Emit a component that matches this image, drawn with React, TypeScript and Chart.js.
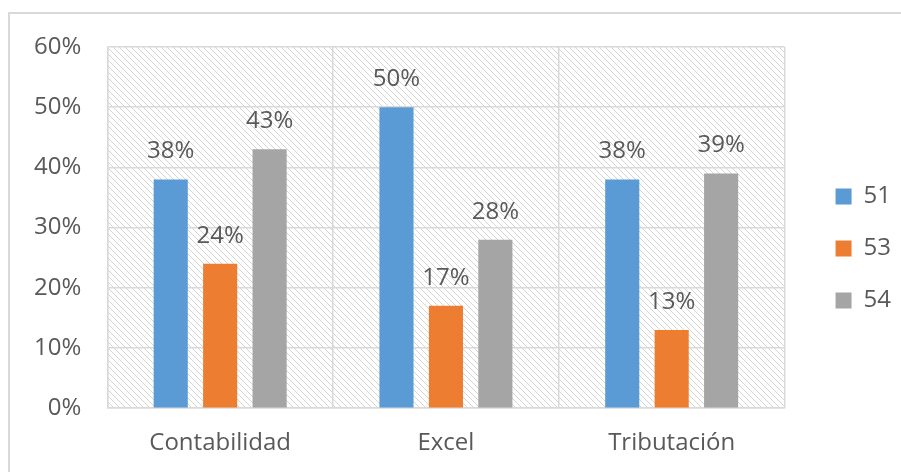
import React, { useEffect, useRef } from "react";
import { Chart, registerables } from "chart.js";

Chart.register(...registerables);

const categories = ["Contabilidad", "Excel", "Tributación"];
const seriesNames = ["51", "53", "54"];
const series51 = [38, 50, 38];
const series53 = [24, 17, 13];
const series54 = [43, 28, 39];
const seriesColors = ["#5B9BD5", "#ED7D31", "#A5A5A5"];
const yTicks = [0, 10, 20, 30, 40, 50, 60];

const FONT = "'Open Sans', sans-serif";
const TEXT = "#595959";
const GRID = "#d9d9d9";

function makePattern(ctx: CanvasRenderingContext2D) {
  const s = 6;
  const c = document.createElement("canvas");
  c.width = s;
  c.height = s;
  const p = c.getContext("2d")!;
  p.fillStyle = "#ffffff";
  p.fillRect(0, 0, s, s);
  p.strokeStyle = "#d4d4d4";
  p.lineWidth = 1;
  p.beginPath();
  p.moveTo(-1, -1);
  p.lineTo(s + 1, s + 1);
  p.moveTo(-1, s - 1);
  p.lineTo(1, s + 1);
  p.moveTo(s - 1, -1);
  p.lineTo(s + 1, 1);
  p.stroke();
  return ctx.createPattern(c, "repeat");
}

const hatchPlugin = {
  id: "hatch",
  beforeDraw(chart: any) {
    const { ctx, chartArea } = chart;
    if (!chartArea) return;
    const pat = makePattern(ctx);
    ctx.save();
    ctx.fillStyle = pat as any;
    ctx.fillRect(chartArea.left, chartArea.top, chartArea.right - chartArea.left, chartArea.bottom - chartArea.top);
    ctx.restore();
  },
};

const legendShiftPlugin = {
  id: "legendShift",
  afterLayout(chart: any) {
    const lg = chart.legend;
    if (!lg) return;
    const dx = 23;
    const dy = -11;
    lg.left += dx;
    lg.right += dx;
    lg.top += dy;
    lg.bottom += dy;
  },
};

const labelPlugin = {
  id: "valueLabels",
  afterDatasetsDraw(chart: any) {
    const { ctx } = chart;
    ctx.save();
    ctx.font = `24px ${FONT}`;
    ctx.fillStyle = TEXT;
    ctx.textAlign = "center";
    ctx.textBaseline = "alphabetic";
    chart.data.datasets.forEach((ds: any, di: number) => {
      const meta = chart.getDatasetMeta(di);
      meta.data.forEach((el: any, i: number) => {
        const v = ds.data[i];
        ctx.fillText(`${Math.round(v)}%`, el.x, el.y - 21);
      });
    });
    ctx.restore();
  },
};

export default function App() {
  const ref = useRef<HTMLCanvasElement>(null);
  useEffect(() => {
    const canvas = ref.current!;
    const data = [series51, series53, series54];
    const chart = new Chart(canvas, {
      type: "bar",
      data: {
        labels: categories,
        datasets: seriesNames.map((n, i) => ({
          label: n,
          data: data[i],
          backgroundColor: seriesColors[i],
          borderWidth: 0,
          categoryPercentage: 0.657,
          barPercentage: 0.69,
        })),
      },
      options: {
        animation: false,
        responsive: false,
        maintainAspectRatio: false,
        layout: { padding: { left: 8, top: 47, right: 23, bottom: 0 } },
        plugins: {
          legend: {
            position: "right",
            labels: {
              boxWidth: 16,
              boxHeight: 16,
              padding: 28,
              color: TEXT,
              font: { family: FONT, size: 24 },
            },
          },
          tooltip: { enabled: false },
        },
        scales: {
          x: {
            afterFit: (s: any) => {
              s.height -= 7;
            },
            grid: { color: GRID, lineWidth: 1.5, drawTicks: false },
            border: { color: GRID, width: 1.5 },
            ticks: { color: TEXT, font: { family: FONT, size: 24 }, padding: 21, maxRotation: 0 },
          },
          y: {
            min: 0,
            max: 60,
            afterBuildTicks: (axis: any) => {
              axis.ticks = yTicks.map((v) => ({ value: v }));
            },
            grid: { color: GRID, lineWidth: 1.5, drawTicks: false },
            border: { color: GRID, width: 1.5 },
            ticks: {
              color: TEXT,
              font: { family: FONT, size: 24 },
              padding: 26,
              callback: (v: any) => `${v}%`,
            },
          },
        },
      },
      plugins: [hatchPlugin, labelPlugin, legendShiftPlugin],
    });
    return () => chart.destroy();
  }, []);

  return (
    <div style={{ position: "absolute", left: 0, top: 0, width: 901, height: 472, background: "#fff", overflow: "hidden" }}>
      <div
        style={{
          position: "absolute",
          left: 8,
          top: 12,
          width: 1000,
          height: 1000,
          border: "2px solid #d9d9d9",
          boxSizing: "border-box",
        }}
      />
      <canvas ref={ref} width={901} height={472} style={{ position: "absolute", left: 0, top: 0 }} />
    </div>
  );
}
